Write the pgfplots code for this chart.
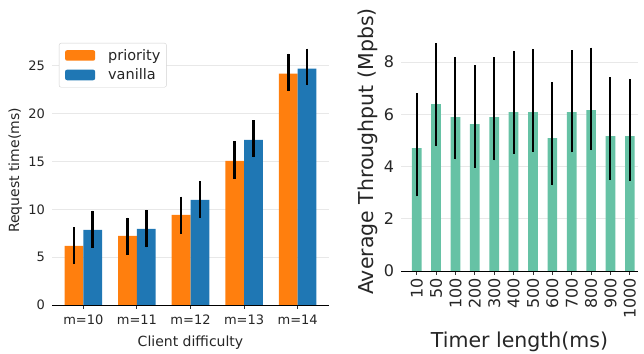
\documentclass[border=0pt]{standalone}
\usepackage{fontspec}
\setmainfont{DejaVu Sans}
\usepackage{pgfplots}
\pgfplotsset{compat=1.18}
\definecolor{corange}{HTML}{FF7F0E}
\definecolor{cblue}{HTML}{1F77B4}
\definecolor{cgreen}{HTML}{66C2A5}
\definecolor{cgrid}{HTML}{E8E8E8}
\definecolor{ctext}{HTML}{262626}
\begin{document}
\begin{tikzpicture}
\path[use as bounding box] (0,0) rectangle (644bp,354bp);
% ---------------- left ----------------
\begin{axis}[
  at={(52bp,49bp)}, anchor=south west, scale only axis,
  width=277bp, height=269bp,
  xmin=-0.585, xmax=4.585, ymin=0, ymax=28.1,
  axis lines*=left,
  y axis line style={draw=none},
  x axis line style={black, line width=1bp},
  ybar, bar width=0.35,
  ymajorgrids, grid style={cgrid, line width=1bp},
  xtick={0,1,2,3,4},
  xticklabels={m=10,m=11,m=12,m=13,m=14},
  ytick={0,5,10,15,20,25},
  tick align=outside, major tick length=3.5bp,
  xtick style={black!80, line width=0.9bp},
  ytick style={draw=none},
  /pgf/number format/assume math mode=true,
  tick label style={font=\fontsize{13bp}{15bp}\selectfont, text=ctext},
  xticklabel style={yshift=-3bp},
  xlabel={Client difficulty},
  ylabel={Request time(ms)},
  label style={font=\fontsize{14bp}{16bp}\selectfont, text=ctext},
  xlabel style={at={(axis description cs:0.5,0)}, anchor=base, yshift=-41.5bp},
  ylabel style={at={(axis description cs:-0.119,0.5)}, anchor=base},
  legend image code/.code={\fill[#1] (0bp,-5.3bp) rectangle (30bp,5.3bp);},
  legend style={at={(axis description cs:0.025,0.974)}, anchor=north west,
    draw=black!18, rounded corners=2bp, fill=white,
    font=\fontsize{14.5bp}{16bp}\selectfont, text=ctext,
    inner xsep=6bp, inner ysep=6bp, row sep=7bp,
    nodes={inner sep=0bp},
    /tikz/every odd column/.append style={column sep=13bp}},
  legend cell align=left,
  error bars/error bar style={line width=2.7bp, black},
  error bars/error mark=none,
]
\addplot[fill=corange, draw=none, bar shift=-0.175,
  error bars/.cd, y dir=both, y explicit]
coordinates {
  (0,6.17)  += (0,1.96) -= (0,1.91)
  (1,7.22)  += (0,1.91) -= (0,1.99)
  (2,9.41)  += (0,1.92) -= (0,1.98)
  (3,15.06) += (0,2.02) -= (0,1.88)
  (4,24.16) += (0,2.10) -= (0,1.81)
};
\addlegendentry{priority}
\addplot[fill=cblue, draw=none, bar shift=0.175,
  error bars/.cd, y dir=both, y explicit]
coordinates {
  (0,7.85)  += (0,2.02) -= (0,1.89)
  (1,7.95)  += (0,1.99) -= (0,1.92)
  (2,10.98) += (0,1.99) -= (0,1.91)
  (3,17.26) += (0,2.06) -= (0,1.81)
  (4,24.69) += (0,2.09) -= (0,1.75)
};
\addlegendentry{vanilla}
\end{axis}
% ---------------- right ----------------
\begin{axis}[
  at={(401bp,83bp)}, anchor=south west, scale only axis,
  width=237bp, height=239bp,
  xmin=-0.81, xmax=11.42, ymin=0, ymax=9.15,
  axis lines*=left,
  y axis line style={draw=none},
  x axis line style={black, line width=1bp},
  ybar, bar width=0.5,
  ymajorgrids, grid style={cgrid, line width=1bp},
  xtick={0,1,2,3,4,5,6,7,8,9,10,11},
  xticklabels={10,50,100,200,300,400,500,600,700,800,900,1000},
  ytick={0,2,4,6,8},
  tick align=outside, major tick length=3.5bp,
  xtick style={black!80, line width=0.9bp},
  ytick style={draw=none},
  /pgf/number format/assume math mode=true,
  tick label style={font=\fontsize{16bp}{18bp}\selectfont, text=ctext},
  xticklabel style={rotate=90, anchor=east},
  xlabel={Timer length(ms)},
  ylabel={Average Throughput (Mpbs)},
  label style={font=\fontsize{20.5bp}{23bp}\selectfont, text=ctext},
  xlabel style={at={(axis description cs:0.5,0)}, anchor=base, yshift=-76bp},
  ylabel style={at={(axis description cs:-0.114,0.5)}, anchor=base},
  error bars/error bar style={line width=2bp, black},
  error bars/error mark=none,
]
\addplot[fill=cgreen, draw=none, bar shift=0,
  error bars/.cd, y dir=both, y explicit]
coordinates {
  (0,4.70)  += (0,2.10) -= (0,1.84)
  (1,6.39)  += (0,2.33) -= (0,1.61)
  (2,5.89)  += (0,2.31) -= (0,1.62)
  (3,5.62)  += (0,2.26) -= (0,1.67)
  (4,5.89)  += (0,2.29) -= (0,1.65)
  (5,6.08)  += (0,2.35) -= (0,1.59)
  (6,6.08)  += (0,2.42) -= (0,1.52)
  (7,5.09)  += (0,2.13) -= (0,1.81)
  (8,6.08)  += (0,2.38) -= (0,1.54)
  (9,6.16)  += (0,2.39) -= (0,1.53)
  (10,5.16) += (0,2.25) -= (0,1.68)
  (11,5.16) += (0,2.20) -= (0,1.72)
};
\end{axis}
\end{tikzpicture}
\end{document}
